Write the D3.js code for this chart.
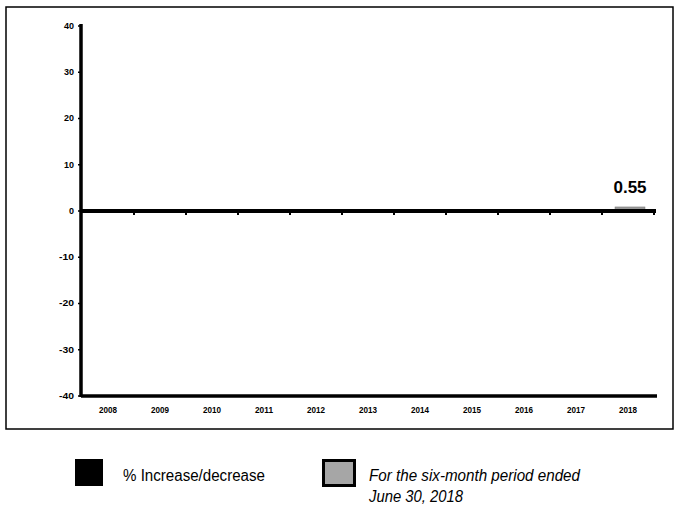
<!DOCTYPE html>
<html><head><meta charset="utf-8">
<script src="https://cdn.jsdelivr.net/npm/d3@7"></script>
<style>body{margin:0;background:#fff}svg{display:block;font-family:"Liberation Sans",Arial,sans-serif}</style>
</head><body><svg id="c" width="681" height="506"></svg>
<script>
const years = ["2008","2009","2010","2011","2012","2013","2014","2015","2016","2017","2018"];
const annualValues = [0,0,0,0,0,0,0,0,0,0,null];
const sixMonthValues = [null,null,null,null,null,null,null,null,null,null,0.55];
const yTicks = [-40,-30,-20,-10,0,10,20,30,40];
const legendLabels = ["% Increase/decrease", "For the six-month period ended", "June 30, 2018"];

const svg = d3.select("#c");
svg.append("rect").attr("x",6).attr("y",7).attr("width",667).attr("height",422)
  .attr("fill","none").attr("stroke","#000").attr("stroke-width",1.5);

const x = d3.scaleBand().domain(years).range([82,654]);
const y = d3.scaleLinear().domain([-40,40]).range([396,26]);

// y axis
svg.append("line").attr("x1",81).attr("x2",81).attr("y1",y(40)-2).attr("y2",y(-40)+1)
  .attr("stroke","#000").attr("stroke-width",3.5);
const yg = svg.append("g");
yTicks.forEach(t=>{
  yg.append("line").attr("x1",78).attr("x2",81).attr("y1",y(t)).attr("y2",y(t)).attr("stroke","#000").attr("stroke-width",1.5);
  const s = String(t);
  yg.append("text").attr("x",74).attr("y",y(t)).attr("dy","0.35em").attr("text-anchor","end")
    .attr("font-size",8.5).attr("font-weight","bold")
    .attr("textLength", s.length*5).attr("lengthAdjust","spacingAndGlyphs").text(s);
});

// bottom axis line
svg.append("line").attr("x1",81).attr("x2",657).attr("y1",396).attr("y2",396)
  .attr("stroke","#000").attr("stroke-width",3.5);
// x labels
years.forEach(yr=>{
  svg.append("text").attr("x",x(yr)+x.bandwidth()/2).attr("y",413).attr("text-anchor","middle")
    .attr("font-size",9.5).attr("font-weight","bold")
    .attr("textLength",18).attr("lengthAdjust","spacingAndGlyphs").text(yr);
});

// bars
years.forEach((yr,i)=>{
  const v = annualValues[i];
  if(v!==null && v!==0){
    svg.append("rect").attr("x",x(yr)+x.bandwidth()*0.2).attr("width",x.bandwidth()*0.6)
      .attr("y",Math.min(y(v),y(0))).attr("height",Math.abs(y(v)-y(0))).attr("fill","#000");
  }
  const s = sixMonthValues[i];
  if(s!==null){
    svg.append("rect").attr("x",x(yr)+13).attr("width",x.bandwidth()-22)
      .attr("y",y(s)-1.5).attr("height",Math.abs(y(s)-y(0))+1.5).attr("fill","#999").attr("stroke","#777").attr("stroke-width",0.5);
    svg.append("text").attr("x",x(yr)+x.bandwidth()/2+2).attr("y",y(s)-15).attr("text-anchor","middle")
      .attr("font-size",17).attr("font-weight","bold").text(s.toFixed(2));
  }
});

// zero line
svg.append("line").attr("x1",81).attr("x2",656).attr("y1",y(0)).attr("y2",y(0))
  .attr("stroke","#000").attr("stroke-width",4);
// ticks at band boundaries on zero line
years.forEach(yr=>{
  const bx = x(yr)+x.bandwidth();
  svg.append("line").attr("x1",bx).attr("x2",bx).attr("y1",y(0)).attr("y2",y(0)+4).attr("stroke","#000").attr("stroke-width",2);
});

// legend
svg.append("rect").attr("x",75).attr("y",459).attr("width",28).attr("height",27).attr("fill","#000");
svg.append("text").attr("x",123).attr("y",481).attr("font-size",16)
  .attr("textLength",142).attr("lengthAdjust","spacingAndGlyphs").text(legendLabels[0]);
svg.append("rect").attr("x",323.5).attr("y",460.5).attr("width",31).attr("height",25).attr("fill","#a6a6a6").attr("stroke","#000").attr("stroke-width",3);
svg.append("text").attr("x",369).attr("y",481).attr("font-size",16).attr("font-style","italic")
  .attr("textLength",211).attr("lengthAdjust","spacingAndGlyphs").text(legendLabels[1]);
svg.append("text").attr("x",369).attr("y",502).attr("font-size",16).attr("font-style","italic")
  .attr("textLength",94).attr("lengthAdjust","spacingAndGlyphs").text(legendLabels[2]);
</script></body></html>
